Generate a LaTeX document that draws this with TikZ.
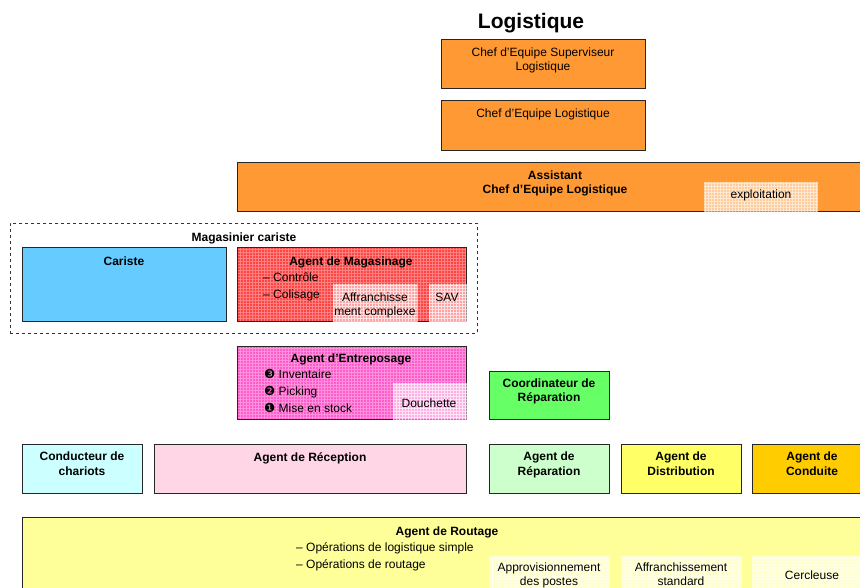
\documentclass[tikz,border=0pt]{standalone}
\usepackage{fontspec}
\setmainfont{Liberation Sans}
\newfontfamily\symfont{DejaVu Sans}
\begin{document}
\begin{tikzpicture}[x=1pt,y=-1pt,
  box/.style={draw=black!85, line width=0.8pt, inner sep=0pt, anchor=north west},
  txt/.style={inner sep=0pt, anchor=base, font=\fontsize{12}{14}\selectfont},
  btxt/.style={txt, font=\fontsize{12}{14}\selectfont\bfseries},
  ltxt/.style={txt, anchor=base west},
  ovl/.style={fill=white, fill opacity=0.5, draw=none},
  gridl/.style={draw=white, line width=0.6pt, opacity=0.55},
  gridd/.style={draw=white, line width=0.6pt, opacity=0.32}
]
\definecolor{orangeC}{HTML}{FF9933}
\definecolor{blueC}{HTML}{66CCFF}
\definecolor{redC}{HTML}{FF4444}
\definecolor{pinkC}{HTML}{FF5CCB}
\definecolor{greenC}{HTML}{66FF66}
\definecolor{cyanC}{HTML}{CCFFFF}
\definecolor{rosC}{HTML}{FFD6E6}
\definecolor{lgreenC}{HTML}{CCFFCC}
\definecolor{yelC}{HTML}{FFFF66}
\definecolor{goldC}{HTML}{FFCC00}
\definecolor{lyelC}{HTML}{FFFF99}
\useasboundingbox (0,0) rectangle (860,588);
\fill[white] (0,0) rectangle (860,588);

% title
\node[txt, font=\fontsize{21}{24}\selectfont\bfseries] (title) at (531,28.5) {Logistique};

% top boxes
\node[box, fill=orangeC, minimum width=204pt, minimum height=49pt] (b1) at (441,39) {};
\node[txt] (b1a) at (543,56.5) {Chef d’Equipe Superviseur};
\node[txt] (b1b) at (543,70.5) {Logistique};
\node[box, fill=orangeC, minimum width=204pt, minimum height=50pt] (b2) at (441,100) {};
\node[txt] (b2a) at (543,117.5) {Chef d’Equipe Logistique};

% assistant
\node[box, fill=orangeC, minimum width=636pt, minimum height=49pt] (b3) at (237,162) {};
\node[btxt] (b3a) at (555,179.5) {Assistant};
\node[btxt] (b3b) at (555,193.5) {Chef d’Equipe Logistique};
\path[ovl] (704,182) rectangle (818,212);
\draw[gridl, step=3pt] (704,182) grid (818,212);
\node[txt] (expl) at (761,198.5) {exploitation};

% magasinier cariste group
\node[box, draw=black!80, dashed, line width=0.7pt, minimum width=467pt, minimum height=110pt] (grp) at (10,223) {};
\node[btxt] (grpt) at (244,241.5) {Magasinier cariste};
\node[box, fill=blueC, minimum width=204pt, minimum height=74pt] (car) at (22,247) {};
\node[btxt] (cart) at (124,265.5) {Cariste};

\node[box, fill=redC, minimum width=229pt, minimum height=74pt] (mag) at (237,247) {};
\begin{scope}
  \clip (237,247) rectangle (466,321);
  \draw[gridd, step=3pt] (237,247) grid (466,321);
\end{scope}
\draw[draw=black!85, line width=0.8pt] (mag.north west) rectangle (mag.south east);
\node[btxt] (magt) at (351,265.5) {Agent de Magasinage};
\node[ltxt] (mag1) at (263,281.5) {– Contrôle};
\node[ltxt] (mag2) at (263,298.5) {– Colisage};
\path[ovl] (333,284) rectangle (417,322);
\draw[gridl, step=3pt] (333,284) grid (417,322);
\node[txt] (aff1) at (375,301.5) {Affranchisse};
\node[txt] (aff2) at (375,315.5) {ment complexe};
\path[ovl] (429,284) rectangle (467,322);
\draw[gridl, step=3pt] (429,284) grid (467,322);
\node[txt] (sav) at (447,301.5) {SAV};

% entreposage
\node[box, fill=pinkC, minimum width=229pt, minimum height=73pt] (ent) at (237,346) {};
\begin{scope}
  \clip (237,346) rectangle (466,419);
  \draw[gridd, step=3pt] (237,346) grid (466,419);
\end{scope}
\draw[draw=black!85, line width=0.8pt] (ent.north west) rectangle (ent.south east);
\node[btxt] (entt) at (351,362.5) {Agent d’Entreposage};
\node[ltxt] (ent1) at (264,378.5) {{\symfont\fontsize{12.5}{14}\selectfont ❸} Inventaire};
\node[ltxt] (ent2) at (264,395.5) {{\symfont\fontsize{12.5}{14}\selectfont ❷} Picking};
\node[ltxt] (ent3) at (264,412.5) {{\symfont\fontsize{12.5}{14}\selectfont ❶} Mise en stock};
\path[ovl] (393,383) rectangle (467,420);
\draw[gridl, step=3pt] (393,383) grid (467,420);
\node[txt] (dou) at (429,407.5) {Douchette};

% coordinateur
\node[box, fill=greenC, minimum width=120pt, minimum height=48pt] (coo) at (489,371) {};
\node[btxt] (coo1) at (549,387.5) {Coordinateur de};
\node[btxt] (coo2) at (549,401.5) {Réparation};

% row of agents
\node[box, fill=cyanC, minimum width=120pt, minimum height=49pt] (con) at (22,444) {};
\node[btxt] (con1) at (82,460.5) {Conducteur de};
\node[btxt] (con2) at (82,475.5) {chariots};
\node[box, fill=rosC, minimum width=312pt, minimum height=49pt] (rec) at (154,444) {};
\node[btxt] (rec1) at (310,461.5) {Agent de Réception};
\node[box, fill=lgreenC, minimum width=120pt, minimum height=49pt] (rep) at (489,444) {};
\node[btxt] (rep1) at (549,460.5) {Agent de};
\node[btxt] (rep2) at (549,475.5) {Réparation};
\node[box, fill=yelC, minimum width=120pt, minimum height=49pt] (dis) at (621,444) {};
\node[btxt] (dis1) at (681,460.5) {Agent de};
\node[btxt] (dis2) at (681,475.5) {Distribution};
\node[box, fill=goldC, minimum width=120pt, minimum height=49pt] (cdt) at (752,444) {};
\node[btxt] (cdt1) at (812,460.5) {Agent de};
\node[btxt] (cdt2) at (812,475.5) {Conduite};

% routage
\node[box, fill=lyelC, minimum width=850pt, minimum height=90pt] (rou) at (22,517) {};
\node[btxt] (rout) at (447,535.5) {Agent de Routage};
\node[ltxt] (rou1) at (296,551.5) {– Opérations de logistique simple};
\node[ltxt] (rou2) at (296,568.5) {– Opérations de routage};
\path[ovl] (489,556) rectangle (609,600);
\draw[gridl, step=3pt] (489,556) grid (609,600);
\node[txt] (app1) at (549,571.5) {Approvisionnement};
\node[txt] (app2) at (549,585.5) {des postes};
\path[ovl] (621,556) rectangle (741,600);
\draw[gridl, step=3pt] (621,556) grid (741,600);
\node[txt] (afs1) at (681,571.5) {Affranchissement};
\node[txt] (afs2) at (681,585.5) {standard};
\path[ovl] (752,556) rectangle (872,600);
\draw[gridl, step=3pt] (752,556) grid (872,600);
\node[txt] (cer) at (812,579.5) {Cercleuse};
\end{tikzpicture}
\end{document}
